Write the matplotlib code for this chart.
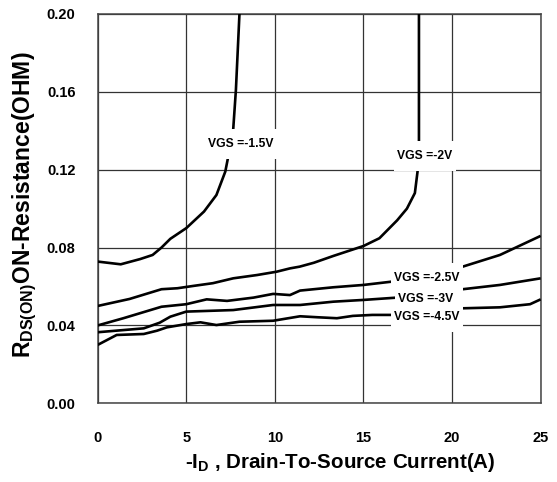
import numpy as np
import matplotlib
matplotlib.use("Agg")
import matplotlib.pyplot as plt
from matplotlib.path import Path

plt.rcParams['font.family'] = ['Liberation Sans', 'DejaVu Sans']
plt.rcParams['font.weight'] = 'bold'
plt.rcParams['mathtext.fontset'] = 'custom'
plt.rcParams['mathtext.rm'] = 'Liberation Sans:bold'
plt.rcParams['mathtext.it'] = 'Liberation Sans:bold'
plt.rcParams['mathtext.bf'] = 'Liberation Sans:bold'

# curves
x_15 = [0, 1.3, 2.4, 3.1, 3.6, 4.1, 5.0, 6.0, 6.7, 7.2, 7.33, 7.65, 7.8, 8.0]
y_15 = [0.0728, 0.0714, 0.0741, 0.0762, 0.080, 0.0845, 0.090, 0.0985, 0.107,
        0.119, 0.125, 0.141, 0.161, 0.200]

x_20 = [0, 1.8, 3.6, 4.5, 5.4, 6.5, 7.65, 9.0, 10.1, 10.85, 11.4, 12.2, 13.3,
        15.0, 15.9, 16.9, 17.45, 17.9, 18.05, 18.13, 18.13]
y_20 = [0.050, 0.0536, 0.0586, 0.0591, 0.0603, 0.0617, 0.0642, 0.0659, 0.0676,
        0.0693, 0.0702, 0.0722, 0.0757, 0.0808, 0.0848, 0.094, 0.100, 0.108,
        0.119, 0.135, 0.200]

x_25 = [0, 1.45, 3.6, 5.0, 6.15, 7.3, 8.8, 9.9, 10.85, 11.42, 13.3, 15.0, 16.6,
        20.6, 22.7, 25]
y_25 = [0.040, 0.0437, 0.0496, 0.0509, 0.0534, 0.0526, 0.0543, 0.0562, 0.0556,
        0.0579, 0.0596, 0.0608, 0.0625, 0.0702, 0.0762, 0.086]

x_30 = [0, 2.6, 3.5, 4.1, 5.0, 7.65, 9.9, 11.42, 13.3, 15.0, 16.9, 20.6, 22.7, 25]
y_30 = [0.0365, 0.0385, 0.0414, 0.0445, 0.0471, 0.0479, 0.0505, 0.0505, 0.0522,
        0.0531, 0.0543, 0.0586, 0.0608, 0.0642]

x_45 = [0, 1.07, 2.6, 3.35, 3.9, 5.0, 5.8, 6.7, 8.0, 9.9, 11.42, 12.4, 13.5,
        14.4, 15.5, 16.7, 20.6, 22.7, 24.4, 25]
y_45 = [0.030, 0.0351, 0.0356, 0.0373, 0.039, 0.0407, 0.0416, 0.0402, 0.0419,
        0.0424, 0.0447, 0.0442, 0.0437, 0.0449, 0.0454, 0.0454, 0.0488, 0.0493,
        0.0509, 0.0534]

labels = ['VGS =-1.5V', 'VGS =-2V', 'VGS =-2.5V', 'VGS =-3V', 'VGS =-4.5V']
label_x = [8.05, 18.47, 18.59, 18.52, 18.59]
label_y = [0.133, 0.1271, 0.0642, 0.0536, 0.0442]

xticks = [0, 5, 10, 15, 20, 25]
yticks = [0.00, 0.04, 0.08, 0.12, 0.16, 0.20]


def tall_box(x0, y0, width, height, mutation_size):
    # white box, wider top/bottom padding than sides
    px = 0.3 * mutation_size
    py = 0.75 * mutation_size
    x0, y0 = x0 - px, y0 - py
    x1, y1 = x0 + width + 2 * px, y0 + height + 2 * py
    return Path([(x0, y0), (x1, y0), (x1, y1), (x0, y1), (x0, y0)], closed=True)


fig = plt.figure(figsize=(5.57, 4.82), dpi=100)
ax = fig.add_axes([0.1754, 0.1633, 0.7953, 0.8077])

for xs, ys in [(x_15, y_15), (x_20, y_20), (x_25, y_25), (x_30, y_30), (x_45, y_45)]:
    ax.plot(xs, ys, color='black', lw=1.9, solid_capstyle='butt', zorder=3)

for txt, lx, ly in zip(labels, label_x, label_y):
    ax.text(lx, ly, txt, fontsize=8.7, fontweight='bold', ha='center', va='center',
            zorder=5, bbox=dict(boxstyle=tall_box, fc='white', ec='none'))

ax.set_xlim(0, 25)
ax.set_ylim(0, 0.20)
ax.set_xticks(xticks)
ax.set_yticks(yticks)
ax.set_xticklabels([str(t) for t in xticks])
ax.set_yticklabels(['%.2f' % t for t in yticks])
ax.tick_params(length=0, labelsize=10.5)
ax.tick_params(axis='y', pad=16)
ax.tick_params(axis='x', pad=20)
ax.grid(True, color='#333333', lw=0.9)
ax.set_axisbelow(True)
for s in ax.spines.values():
    s.set_color('#444444')
    s.set_linewidth(1.1)

ax.set_xlabel(r'-I$_{\mathrm{D}}$ , Drain-To-Source Current(A)', fontsize=14.8,
              fontweight='bold')
ax.set_ylabel(r'R$_{\mathrm{DS(ON)}}$ON-Resistance(OHM)', fontsize=16.5,
              fontweight='bold')
ax.xaxis.label.set(va='center', ha='center')
ax.yaxis.label.set(va='center', ha='center', rotation_mode='default')
ax.xaxis.set_label_coords(0.547, -0.151)
ax.yaxis.set_label_coords(-0.164, 0.51)

fig.savefig('out.png', dpi=100)
